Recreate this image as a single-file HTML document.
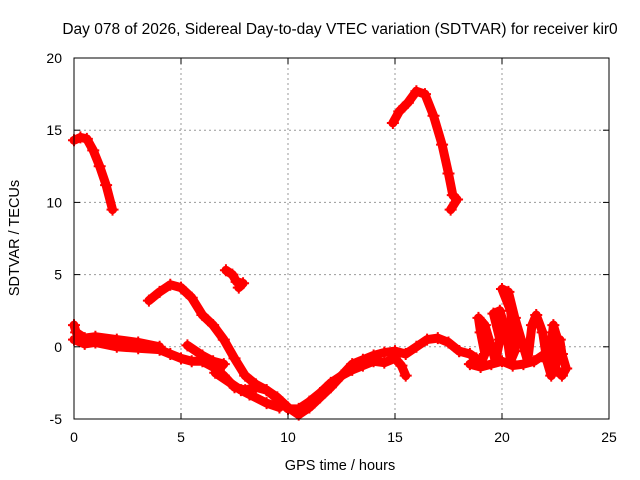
<!DOCTYPE html>
<html><head><meta charset="utf-8"><style>
body{margin:0;background:#fff}
svg{display:block;font-family:"Liberation Sans",sans-serif}
</style></head><body>
<svg id="chart" width="640" height="480">
<text x="340" y="34" text-anchor="middle" font-size="15.5">Day 078 of 2026, Sidereal Day-to-day VTEC variation (SDTVAR) for receiver kir0</text>
<g id="grid"></g>
<g id="series"></g>
<rect x="74" y="58" width="535" height="361" fill="none" stroke="#000" stroke-width="1"/>
<g id="axes"></g>
<text x="340" y="470" text-anchor="middle" font-size="14.5">GPS time / hours</text>
<text transform="translate(19,238) rotate(-90)" text-anchor="middle" font-size="14.5">SDTVAR / TECUs</text>
</svg>
<script>
const xTicks=[0,5,10,15,20,25];
const yTicks=[-5,0,5,10,15,20];
const trackA=[[0,14.3],[0.3,14.5],[0.6,14.4],[0.9,13.6],[1.2,12.5],[1.5,11.2],[1.8,9.5]];
const trackB=[[14.9,15.5],[15.2,16.3],[15.6,16.9],[16.0,17.7],[16.4,17.5],[16.8,16.0],[17.2,14.0],[17.5,12.0],[17.7,10.5],[17.9,10.2],[17.6,9.5]];
const trackC=[[7.1,5.3],[7.4,5.0],[7.6,4.5],[7.9,4.4],[7.7,4.1]];
const trackD=[[3.5,3.2],[4.0,3.8],[4.5,4.3],[5.0,4.1],[5.5,3.4],[6.0,2.2],[6.5,1.5],[7.0,0.5],[7.5,-0.8],[8.0,-2.0],[8.5,-2.6],[9.0,-3.0],[9.5,-3.5],[10,-4.2],[10.5,-4.7],[11,-4.2],[11.5,-3.5],[12,-2.8],[12.5,-2.0],[13,-1.2],[13.5,-0.9],[14,-0.6],[14.5,-0.4],[15,-0.3],[15.5,-0.5],[16,0],[16.5,0.5],[17,0.6],[17.5,0.3],[18,-0.3]];
const trackE=[[0,0.5],[0.5,0.2],[1,0.3],[2,0],[3,-0.1],[4,-0.2],[4.5,-0.5],[5,-0.8],[5.5,-1.0],[6,-1.0],[6.5,-1.4],[7,-2.0],[7.5,-2.8],[8,-3.0],[8.5,-2.8],[9,-3.0],[9.5,-3.6],[10,-4.3],[10.5,-4.3],[11,-3.8],[11.5,-3.2],[12,-2.5],[12.5,-2.0],[13,-1.6],[13.5,-1.3],[14,-1.0],[14.5,-1.1],[15,-0.8],[15.3,-1.3],[15.5,-2.0]];
const trackF=[[0,1.5],[0.1,1.0],[0.5,0.6],[1,0.7],[2,0.5],[3,0.3],[4,0.0]];
const trackG=[[5.3,0.1],[6,-0.6],[6.5,-1.0],[7,-1.2],[6.6,-1.8],[7.3,-2.5],[7.8,-3.0],[8.2,-3.3],[9,-3.9],[9.6,-4.2]];
const trackH=[[18,-0.3],[18.5,-0.5],[18.8,-0.8],[19,-1.2],[19.2,-0.5],[19,1.0],[18.9,2.0],[19.2,1.5],[19.5,0],[19.7,-1],[19.9,0.5],[19.6,2.3],[19.9,2.5],[20.2,1.0],[20.4,-1],[20.6,-0.3],[20.4,2.5],[20.0,4.0],[20.3,3.8],[20.6,2],[21,0],[21.2,-1.0],[21.4,1.5],[21.6,2.2],[21.9,1.0],[22.1,-1],[22.3,0],[22.4,1.5],[22.6,0.5],[22.5,-1.5],[22.8,-2.0],[23,-1.5],[22.8,-0.5],[22.7,0.5]];
const trackI=[[18.5,-1.2],[19,-1.4],[19.5,-1.2],[20,-1.0],[20.5,-1.3],[21,-1.2],[21.5,-1.0],[22,-0.5],[22.3,-2.0]];
const tracks=[trackA,trackB,trackC,trackD,trackE,trackF,trackG,trackH,trackI];
const NS="http://www.w3.org/2000/svg";
const X=t=>74+t*535/25, Y=v=>419-(v+5)*361/25;
const grid=document.getElementById('grid'),axes=document.getElementById('axes'),ser=document.getElementById('series');
function mk(tag,at,p){const e=document.createElementNS(NS,tag);for(const k in at)e.setAttribute(k,at[k]);p.appendChild(e);return e;}
xTicks.forEach(t=>{
 if(t>0&&t<25){const g=mk('line',{x1:X(t),x2:X(t),y1:58,y2:419,stroke:'#999','stroke-dasharray':'2,3'},grid);
 
 }
 mk('line',{x1:X(t),x2:X(t),y1:419,y2:413,stroke:'#000'},axes);
 mk('line',{x1:X(t),x2:X(t),y1:58,y2:64,stroke:'#000'},axes);
 const l=mk('text',{x:X(t),y:442,'text-anchor':'middle','font-size':14},axes);l.textContent=t;
 
 
});
yTicks.forEach(v=>{
 if(v>-5&&v<20){const g=mk('line',{x1:74,x2:609,y1:Y(v),y2:Y(v),stroke:'#999','stroke-dasharray':'2,3'},grid);
 
 }
 mk('line',{x1:74,x2:80,y1:Y(v),y2:Y(v),stroke:'#000'},axes);
 mk('line',{x1:603,x2:609,y1:Y(v),y2:Y(v),stroke:'#000'},axes);
 const l=mk('text',{x:62,y:Y(v)+5,'text-anchor':'end','font-size':14},axes);l.textContent=v;
 
 
});
tracks.forEach((tr,i)=>{
 const p=mk('polyline',{points:tr.map(d=>X(d[0])+','+Y(d[1])).join(' '),fill:'none',stroke:'#f00','stroke-width':9,'stroke-linejoin':'round','stroke-linecap':'round'},ser);
 
 
 tr.forEach(d=>{const m=mk('path',{d:`M${X(d[0])-6},${Y(d[1])}h12M${X(d[0])},${Y(d[1])-6}v12`,stroke:'#f00','stroke-width':2},ser);
 
 });
});
</script>
</body></html>
